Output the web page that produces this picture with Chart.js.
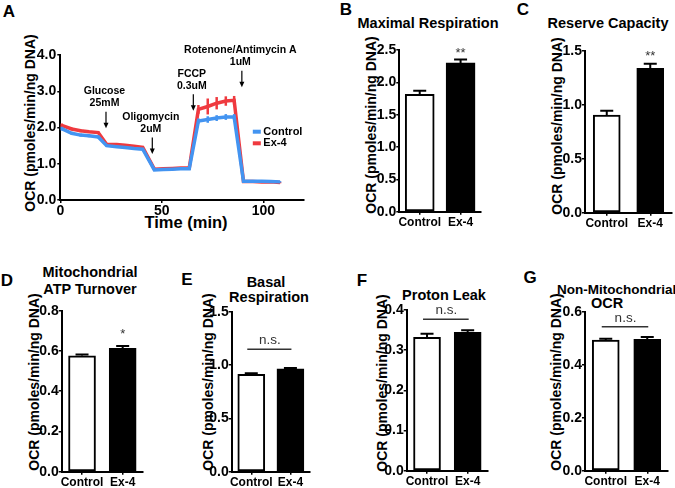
<!DOCTYPE html>
<html>
<head>
<meta charset="utf-8">
<script src="https://cdn.jsdelivr.net/npm/chart.js@4.4.1/dist/chart.umd.min.js"></script>
<style>
  body { margin: 0; background: #fff; }
  #fig { position: relative; width: 675px; height: 488px; overflow: hidden;
         font-family: 'Liberation Sans', Arial, sans-serif; font-weight: bold; color: #000; }
  .box { position: absolute; }
  .lbl { position: absolute; white-space: nowrap; line-height: 1; transform: translate(-50%, -50%); }
  .rot { transform: translate(-50%, -50%) rotate(-90deg); font-size: 14px; }
  .letter { font-size: 17px; }
  .ttl { font-size: 14.5px; }
</style>
</head>
<body>
<div id="fig">
  <div class="lbl letter" style="left:9px;top:11px">A</div>
  <div class="lbl letter" style="left:346px;top:9px">B</div>
  <div class="lbl letter" style="left:523px;top:9px">C</div>
  <div class="lbl letter" style="left:7px;top:280px">D</div>
  <div class="lbl letter" style="left:187px;top:279px">E</div>
  <div class="lbl letter" style="left:362px;top:280px">F</div>
  <div class="lbl letter" style="left:530px;top:277px">G</div>

  <div class="lbl ttl" style="left:428px;top:23px">Maximal Respiration</div>
  <div class="lbl ttl" style="left:608px;top:23px">Reserve Capacity</div>
  <div class="lbl ttl" style="left:90px;top:272px">Mitochondrial</div>
  <div class="lbl ttl" style="left:90px;top:289px">ATP Turnover</div>
  <div class="lbl ttl" style="left:266px;top:282px">Basal</div>
  <div class="lbl ttl" style="left:269px;top:297px">Respiration</div>
  <div class="lbl ttl" style="left:444px;top:295px">Proton Leak</div>
  <div class="lbl ttl" style="left:557px;top:290px;font-size:13.5px;transform:translate(0,-50%)">Non-Mitochondrial</div>
  <div class="lbl ttl" style="left:607px;top:303px">OCR</div>

  <div class="lbl" style="left:186px;top:222px;font-size:16.5px">Time (min)</div>

  <div class="lbl rot" style="left:30px;top:123px">OCR (pmoles/min/ng DNA)</div>
  <div class="lbl rot" style="left:371px;top:125px">OCR (pmoles/min/ng DNA)</div>
  <div class="lbl rot" style="left:557px;top:126px">OCR (pmoles/min/ng DNA)</div>
  <div class="lbl rot" style="left:34px;top:382px">OCR (pmoles/min/ng DNA)</div>
  <div class="lbl rot" style="left:208px;top:382px">OCR (pmoles/min/ng DNA)</div>
  <div class="lbl rot" style="left:382px;top:383px">OCR (pmoles/min/ng DNA)</div>
  <div class="lbl rot" style="left:556px;top:382px">OCR (pmoles/min/ng DNA)</div>
</div>

<script>
// --- données panneau A (cinétique OCR) ---
const timeMin = [0.7, 5.6, 10.0, 14.1, 18.7,
                 22.8, 27.8, 31.9, 36.3, 40.6,
                 46.3, 50.7, 55.2, 59.3, 63.5,
                 68.0, 72.6, 77.0, 81.5, 85.6,
                 90.2, 94.8, 99.2, 103.6, 108.2];
const controlOCR = [1.97, 1.84, 1.79, 1.77, 1.74,
                    1.50, 1.47, 1.45, 1.42, 1.40,
                    0.83, 0.84, 0.85, 0.86, 0.86,
                    2.18, 2.22, 2.26, 2.29, 2.29,
                    0.52, 0.52, 0.52, 0.51, 0.50];
const controlSem = [0.05, 0.04, 0.04, 0.04, 0.04,
                    0.03, 0.03, 0.03, 0.03, 0.03,
                    0.02, 0.02, 0.02, 0.02, 0.02,
                    0.07, 0.09, 0.08, 0.08, 0.08,
                    0.02, 0.02, 0.02, 0.02, 0.02];
const ex4OCR = [2.06, 1.96, 1.91, 1.88, 1.86,
                1.54, 1.53, 1.51, 1.48, 1.45,
                0.85, 0.86, 0.87, 0.88, 0.88,
                2.50, 2.58, 2.67, 2.73, 2.75,
                0.51, 0.51, 0.50, 0.50, 0.48];
const ex4Sem = [0.05, 0.04, 0.04, 0.03, 0.03,
                0.03, 0.03, 0.03, 0.03, 0.03,
                0.02, 0.02, 0.02, 0.02, 0.02,
                0.12, 0.22, 0.17, 0.13, 0.12,
                0.02, 0.02, 0.02, 0.02, 0.02];
const seriesNames = ['Control', 'Ex-4'];
const timeTicks = [0, 50, 100];
const ocrTicks = [0, 1, 2, 3, 4];
const injections = [
    { lines: ['Glucose', '25mM'], t: 22.5, tip: 1.98 },
    { lines: ['Oligomycin', '2uM'], t: 45.3, tip: 1.27 },
    { lines: ['FCCP', '0.3uM'], t: 65.5, tip: 2.46 },
    { lines: ['Rotenone/Antimycin A', '1uM'], t: 89.4, tip: 3.11 }
];

// --- données panneaux B-G (barres moyenne + SEM) ---
const groups = ['Control', 'Ex-4'];
const maxResp = [1.815, 2.30];
const maxRespSem = [0.055, 0.055];
const maxRespTicks = [0, 0.5, 1.0, 1.5, 2.0, 2.5];
const reserveCap = [0.905, 1.337];
const reserveCapSem = [0.04, 0.043];
const reserveCapTicks = [0, 0.5, 1.0, 1.5];
const atpTurnover = [0.576, 0.613];
const atpTurnoverSem = [0.006, 0.011];
const atpTurnoverTicks = [0, 0.2, 0.4, 0.6, 0.8];
const basalResp = [0.913, 0.965];
const basalRespSem = [0.011, 0.007];
const basalRespTicks = [0, 0.5, 1.0, 1.5];
const protonLeak = [0.332, 0.3445];
const protonLeakSem = [0.009, 0.005];
const protonLeakTicks = [0, 0.1, 0.2, 0.3, 0.4];
const nonMitoOCR = [0.493, 0.496];
const nonMitoOCRSem = [0.005, 0.009];
const nonMitoOCRTicks = [0, 0.2, 0.4, 0.6];

const FONT = "'Liberation Sans', Arial, sans-serif";
const BLUE = '#4394F1';
const RED = '#EF3A3F';

Chart.defaults.font.family = FONT;
Chart.defaults.font.weight = 'bold';
Chart.defaults.font.size = 14;
Chart.defaults.color = '#000';
Chart.defaults.animation = false;
Chart.defaults.plugins.legend.display = false;
Chart.defaults.plugins.tooltip.enabled = false;

// barres d'erreur, dessinées juste après chaque dataset pour garder l'ordre
const errorBars = {
    id: 'errorBars',
    afterDatasetDraw(chart, args, opts) {
        const ds = chart.data.datasets[args.index];
        if (!ds.sem) return;
        const { ctx } = chart;
        const ys = chart.scales.y;
        const meta = chart.getDatasetMeta(args.index);
        ctx.save();
        ctx.strokeStyle = opts.color || ds.borderColor;
        ctx.lineWidth = opts.lineWidth || 2;
        ds.data.forEach((d, i) => {
            const v = typeof d === 'object' ? d.y : d;
            const x = meta.data[i].x;
            const top = ys.getPixelForValue(v + ds.sem[i]);
            const bot = ys.getPixelForValue(opts.upOnly ? v : v - ds.sem[i]);
            ctx.beginPath();
            ctx.moveTo(x, bot);
            ctx.lineTo(x, top);
            if (opts.cap) {
                ctx.moveTo(x - opts.cap / 2, top);
                ctx.lineTo(x + opts.cap / 2, top);
            }
            ctx.stroke();
        });
        ctx.restore();
    }
};

// flèches d'injection + légende du panneau A
const timeCourseOverlay = {
    id: 'timeCourseOverlay',
    afterDraw(chart) {
        const { ctx, chartArea } = chart;
        const xs = chart.scales.x, ys = chart.scales.y;
        ctx.save();
        ctx.font = `bold 10.5px ${FONT}`;
        ctx.textAlign = 'center';
        ctx.textBaseline = 'middle';
        ctx.fillStyle = '#000';
        ctx.strokeStyle = '#000';
        ctx.lineWidth = 1.2;
        injections.forEach(inj => {
            const px = xs.getPixelForValue(inj.t);
            const tip = ys.getPixelForValue(inj.tip);
            ctx.beginPath();
            ctx.moveTo(px, tip - 16.5);
            ctx.lineTo(px, tip - 4);
            ctx.stroke();
            ctx.beginPath();
            ctx.moveTo(px - 2.5, tip - 5.5);
            ctx.lineTo(px + 2.5, tip - 5.5);
            ctx.lineTo(px, tip);
            ctx.closePath();
            ctx.fill();
            ctx.fillText(inj.lines[1], px - 1.5, tip - 25);
            ctx.fillText(inj.lines[0], px - 1.5, tip - 37);
        });
        // légende
        ctx.textAlign = 'left';
        ctx.font = `bold 11px ${FONT}`;
        chart.data.datasets.forEach((ds, i) => {
            const lx = chartArea.left + 192.5;
            const ly = chartArea.top + 76.7 + i * 11.6;
            ctx.fillStyle = ds.borderColor;
            ctx.fillRect(lx, ly - 2, 8, 4);
            ctx.fillStyle = '#000';
            ctx.fillText(ds.label, lx + 10.5, ly);
        });
        ctx.restore();
    }
};

// étoiles / n.s. au-dessus des barres
const significance = {
    id: 'significance',
    afterDraw(chart, args, opts) {
        if (!opts.text) return;
        const { ctx } = chart;
        const xs = chart.scales.x, ys = chart.scales.y;
        const y = ys.getPixelForValue(opts.y);
        ctx.save();
        ctx.fillStyle = '#333';
        ctx.strokeStyle = '#333';
        ctx.textAlign = 'center';
        ctx.textBaseline = 'middle';
        if (opts.line) {
            ctx.font = `normal 13.5px ${FONT}`;
            ctx.lineWidth = 1.5;
            ctx.beginPath();
            ctx.moveTo(xs.getPixelForValue(0) - 4, y);
            ctx.lineTo(xs.getPixelForValue(1) + 1, y);
            ctx.stroke();
            ctx.fillText(opts.text, (xs.getPixelForValue(0) + xs.getPixelForValue(1)) / 2 - 1, y - 8.5);
        } else {
            ctx.font = `normal 13px ${FONT}`;
            ctx.fillText(opts.text, xs.getPixelForValue(1), y + 3);
        }
        ctx.restore();
    }
};

function makeCanvas(box) {
    const div = document.createElement('div');
    div.className = 'box';
    div.style.left = box.left + 'px';
    div.style.top = box.top + 'px';
    div.style.width = box.w + 'px';
    div.style.height = box.h + 'px';
    const cv = document.createElement('canvas');
    div.appendChild(cv);
    document.getElementById('fig').appendChild(div);
    return cv;
}

function axisStyle(tickFont) {
    return {
        border: { display: true, color: '#000', width: 2 },
        grid: { display: true, drawOnChartArea: false, drawTicks: true, tickLength: 3, color: '#000', lineWidth: 1.5, offset: false },
        ticks: { font: { size: tickFont, weight: 'bold' } }
    };
}

// --- panneau A ---
(function () {
    const box = { left: 0, top: 0, w: 330, h: 235 };
    const area = { x0: 60.3, y0: 55, x1: 304, y1: 200 };
    const xAxis = axisStyle(14);
    const yAxis = axisStyle(14);
    new Chart(makeCanvas(box), {
        type: 'line',
        data: {
            datasets: [
                { label: seriesNames[0], data: timeMin.map((t, i) => ({ x: t, y: controlOCR[i] })), sem: controlSem,
                  borderColor: BLUE, borderWidth: 3.5, pointRadius: 0, tension: 0 },
                { label: seriesNames[1], data: timeMin.map((t, i) => ({ x: t, y: ex4OCR[i] })), sem: ex4Sem,
                  borderColor: RED, borderWidth: 3.5, pointRadius: 0, tension: 0 }
            ]
        },
        options: {
            responsive: true,
            maintainAspectRatio: false,
            layout: { padding: { left: 0, top: area.y0 - box.top, right: box.left + box.w - area.x1, bottom: 0 } },
            scales: {
                x: Object.assign(xAxis, {
                    type: 'linear', min: 0, max: 120,
                    afterBuildTicks: s => { s.ticks = timeTicks.map(v => ({ value: v })); },
                    afterFit: s => { s.height = box.top + box.h - area.y1; },
                    ticks: Object.assign(xAxis.ticks, { padding: 0, callback: v => v, maxRotation: 0 })
                }),
                y: Object.assign(yAxis, {
                    min: ocrTicks[0], max: ocrTicks[ocrTicks.length - 1],
                    afterBuildTicks: s => { s.ticks = ocrTicks.map(v => ({ value: v })); },
                    afterFit: s => { s.width = area.x0 - box.left; },
                    ticks: Object.assign(yAxis.ticks, { padding: 1, callback: v => v.toFixed(1) })
                })
            },
            plugins: { errorBars: { lineWidth: 2.5 } }
        },
        plugins: [errorBars, timeCourseOverlay]
    });
})();

// --- panneaux B à G ---
function barPanel(box, area, values, sems, yTicks, barWidth, sig) {
    const xAxis = axisStyle(12);
    const yAxis = axisStyle(14);
    new Chart(makeCanvas(box), {
        type: 'bar',
        data: {
            labels: groups,
            datasets: [{
                data: values,
                sem: sems,
                backgroundColor: ['#ffffff', '#000000'],
                borderColor: '#000',
                borderWidth: 2,
                borderSkipped: false,
                barThickness: barWidth
            }]
        },
        options: {
            responsive: true,
            maintainAspectRatio: false,
            layout: { padding: { left: 0, top: area.y0 - box.top, right: box.left + box.w - area.x1, bottom: 0 } },
            scales: {
                x: Object.assign(xAxis, {
                    type: 'category', offset: true,
                    afterFit: s => { s.height = box.top + box.h - area.y1; s.paddingLeft = 0; s.paddingRight = 0; },
                    ticks: Object.assign(xAxis.ticks, { padding: 1, maxRotation: 0, autoSkip: false })
                }),
                y: Object.assign(yAxis, {
                    min: yTicks[0], max: yTicks[yTicks.length - 1],
                    afterBuildTicks: s => { s.ticks = yTicks.map(v => ({ value: v })); },
                    afterFit: s => { s.width = area.x0 - box.left; },
                    ticks: Object.assign(yAxis.ticks, { padding: 0, callback: v => v.toFixed(1) })
                })
            },
            plugins: {
                errorBars: { color: '#000', lineWidth: 2, upOnly: true, cap: 13 },
                significance: sig
            }
        },
        plugins: [errorBars, significance]
    });
}

barPanel({ left: 335, top: 30, w: 155, h: 205 }, { x0: 399.3, y0: 50, x1: 481, y1: 211.7 },
         maxResp, maxRespSem, maxRespTicks, 29, { text: '**', y: 2.50 });
barPanel({ left: 520, top: 30, w: 155, h: 205 }, { x0: 585, y0: 50.7, x1: 672, y1: 212.7 },
         reserveCap, reserveCapSem, reserveCapTicks, 27, { text: '**', y: 1.479 });
barPanel({ left: 0, top: 290, w: 165, h: 198 }, { x0: 61.7, y0: 310.7, x1: 143, y1: 471.7 },
         atpTurnover, atpTurnoverSem, atpTurnoverTicks, 27, { text: '*', y: 0.696 });
barPanel({ left: 170, top: 290, w: 165, h: 198 }, { x0: 231.7, y0: 311.7, x1: 310, y1: 471.7 },
         basalResp, basalRespSem, basalRespTicks, 27, { text: 'n.s.', y: 1.148, line: true });
barPanel({ left: 340, top: 290, w: 165, h: 198 }, { x0: 406.7, y0: 310, x1: 488, y1: 470.7 },
         protonLeak, protonLeakSem, protonLeakTicks, 27, { text: 'n.s.', y: 0.377, line: true });
barPanel({ left: 505, top: 290, w: 170, h: 198 }, { x0: 585, y0: 311.7, x1: 668, y1: 470.7 },
         nonMitoOCR, nonMitoOCRSem, nonMitoOCRTicks, 27, { text: 'n.s.', y: 0.543, line: true });
</script>
</body>
</html>
